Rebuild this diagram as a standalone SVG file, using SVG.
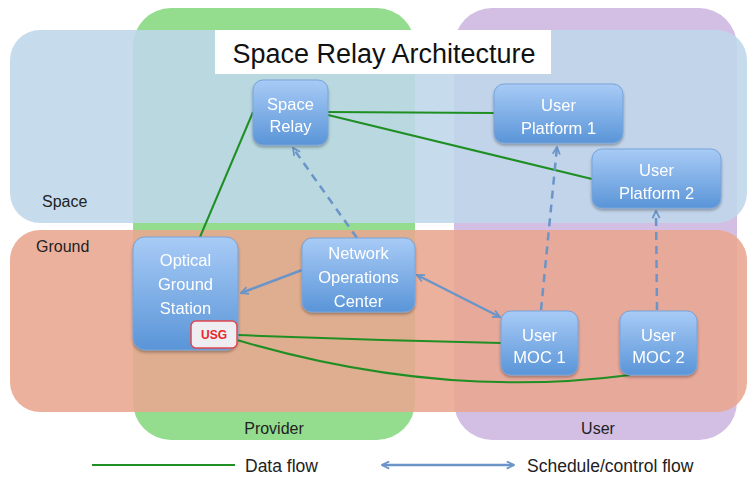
<svg xmlns="http://www.w3.org/2000/svg" width="748" height="478" viewBox="0 0 748 478">
<defs>
<linearGradient id="ng" x1="0" y1="0" x2="0" y2="1">
<stop offset="0" stop-color="#a8cbf6"/>
<stop offset="1" stop-color="#5a95d8"/>
</linearGradient>
<filter id="sh" x="-20%" y="-20%" width="140%" height="140%">
<feGaussianBlur in="SourceAlpha" stdDeviation="1.5"/>
<feOffset dx="0" dy="2" result="b"/>
<feComponentTransfer><feFuncA type="linear" slope="0.3"/></feComponentTransfer>
<feMerge><feMergeNode/><feMergeNode in="SourceGraphic"/></feMerge>
</filter>
<marker id="ah" viewBox="0 0 10 10" refX="9" refY="5" markerWidth="9" markerHeight="9" markerUnits="userSpaceOnUse" orient="auto-start-reverse">
<path d="M1,1 L9,5 L1,9" fill="none" stroke="#6b95c8" stroke-width="2"/>
</marker>
</defs>
<style>
.node rect.b{fill:url(#ng);stroke:#78a4da;stroke-width:1}
.nt{font-family:"Liberation Sans",Arial,sans-serif;font-size:16.5px;fill:#ffffff;text-anchor:middle}
.lbl{font-family:"Liberation Sans",Arial,sans-serif;font-size:16px;fill:#222222}
.leg{font-family:"Liberation Sans",Arial,sans-serif;font-size:17.5px;fill:#222222}
.data{fill:none;stroke:#1f8f24;stroke-width:2}
.ctl{fill:none;stroke:#6b95c8;stroke-width:2.5}
.dash{stroke-dasharray:8,6}
</style>
<rect width="748" height="478" fill="#ffffff"/>
<g id="provider">
<rect x="133" y="8" width="282" height="432" rx="38" fill="#94dd8e"/>
<text class="lbl" x="274" y="434" text-anchor="middle">Provider</text>
</g>
<g id="user">
<rect x="454" y="8" width="283" height="432" rx="38" fill="#d3bee4"/>
<text class="lbl" x="598" y="434" text-anchor="middle">User</text>
</g>
<g id="space">
<rect x="10" y="30" width="737" height="193" rx="30" fill="#bed7ea" fill-opacity="0.88"/>
<text class="lbl" x="42" y="207">Space</text>
</g>
<g id="ground">
<rect x="10" y="230" width="737" height="182" rx="30" fill="#e9a690" fill-opacity="0.88"/>
<text class="lbl" x="36" y="252">Ground</text>
</g>
<g id="title">
<rect x="215" y="30" width="336" height="44" fill="#ffffff"/>
<text x="384" y="63" text-anchor="middle" font-family="'Liberation Sans',Arial,sans-serif" font-size="27" fill="#111111">Space Relay Architecture</text>
</g>
<g id="connectors">
<line class="data" x1="253" y1="112" x2="200" y2="237"/>
<line class="data" x1="328" y1="112" x2="494" y2="113"/>
<line class="data" x1="328" y1="115" x2="592" y2="179"/>
<path class="data" d="M237,335 Q370,340 501,343"/>
<path class="data" d="M237,340 Q440,400 630,375"/>
<line class="ctl dash" x1="357" y1="238" x2="293" y2="148" marker-end="url(#ah)"/>
<line class="ctl dash" x1="541" y1="310" x2="557" y2="147" marker-end="url(#ah)"/>
<line class="ctl dash" x1="657" y1="310" x2="656" y2="211" marker-end="url(#ah)"/>
<line class="ctl" x1="302" y1="270" x2="241" y2="293" marker-end="url(#ah)"/>
<line class="ctl" x1="417" y1="275" x2="500" y2="317" marker-start="url(#ah)" marker-end="url(#ah)"/>
</g>
<g id="space-relay" class="node" filter="url(#sh)">
<rect class="b" x="253" y="80" width="75" height="65" rx="10"/>
<text class="nt" x="290.5" y="110">Space</text>
<text class="nt" x="290.5" y="132">Relay</text>
</g>
<g id="user-platform-1" class="node" filter="url(#sh)">
<rect class="b" x="494" y="84" width="129" height="59" rx="10"/>
<text class="nt" x="558.5" y="111">User</text>
<text class="nt" x="558.5" y="134">Platform 1</text>
</g>
<g id="user-platform-2" class="node" filter="url(#sh)">
<rect class="b" x="592" y="149" width="129" height="59" rx="10"/>
<text class="nt" x="656.5" y="176">User</text>
<text class="nt" x="656.5" y="199">Platform 2</text>
</g>
<g id="optical-ground-station" class="node" filter="url(#sh)">
<rect class="b" x="133" y="237" width="105" height="113" rx="12"/>
<text class="nt" x="185.5" y="266">Optical</text>
<text class="nt" x="185.5" y="290">Ground</text>
<text class="nt" x="185.5" y="314">Station</text>
</g>
<g id="usg">
<rect x="191" y="321" width="46" height="27" rx="5" fill="#eeeef2" stroke="#e0484c" stroke-width="1.5"/>
<text x="214" y="339" text-anchor="middle" font-family="'Liberation Sans',Arial,sans-serif" font-size="12" font-weight="bold" fill="#e8262a">USG</text>
</g>
<g id="network-operations-center" class="node" filter="url(#sh)">
<rect class="b" x="302" y="238" width="113" height="74" rx="10"/>
<text class="nt" x="358.5" y="259">Network</text>
<text class="nt" x="358.5" y="283">Operations</text>
<text class="nt" x="358.5" y="307">Center</text>
</g>
<g id="user-moc-1" class="node" filter="url(#sh)">
<rect class="b" x="501" y="311" width="77" height="64" rx="10"/>
<text class="nt" x="539.5" y="341">User</text>
<text class="nt" x="539.5" y="363">MOC 1</text>
</g>
<g id="user-moc-2" class="node" filter="url(#sh)">
<rect class="b" x="620" y="311" width="77" height="64" rx="10"/>
<text class="nt" x="658.5" y="341">User</text>
<text class="nt" x="658.5" y="363">MOC 2</text>
</g>
<g id="legend">
<line class="data" x1="92" y1="465" x2="235" y2="465"/>
<text class="leg" x="245" y="472">Data flow</text>
<line class="ctl" x1="382" y1="465" x2="514" y2="465" marker-start="url(#ah)" marker-end="url(#ah)"/>
<text class="leg" x="527" y="472">Schedule/control flow</text>
</g>
</svg>
